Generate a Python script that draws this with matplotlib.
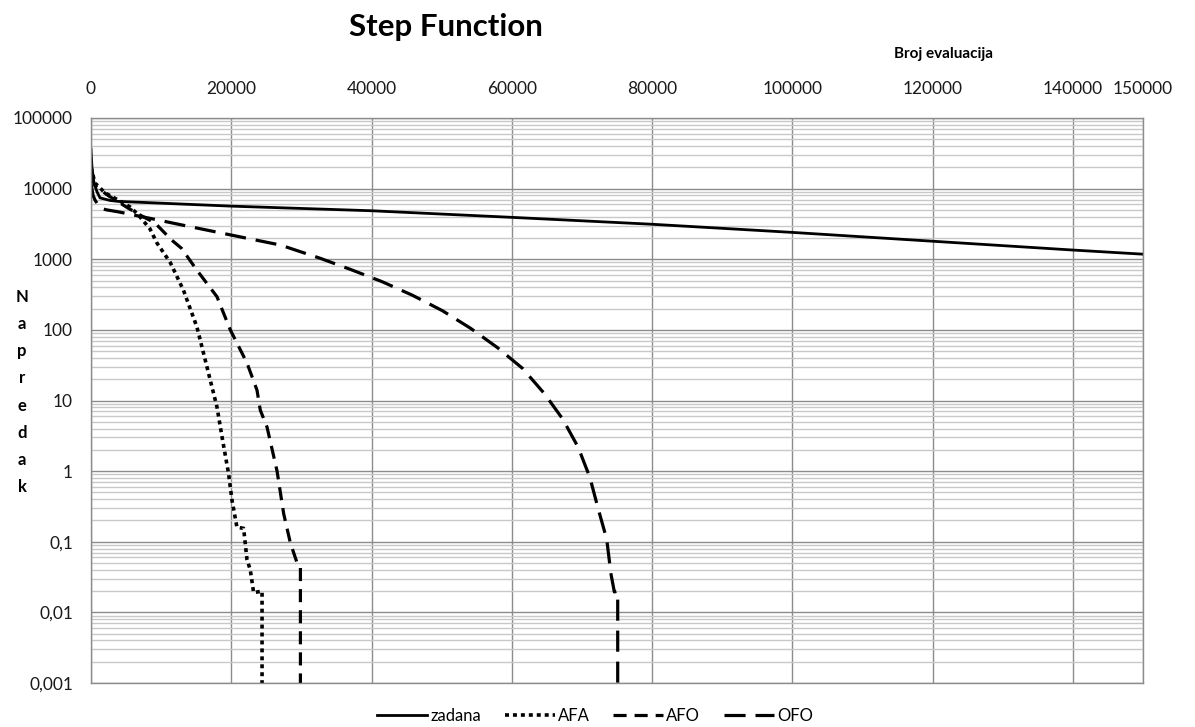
import matplotlib
matplotlib.use("Agg")
import matplotlib.pyplot as plt
from matplotlib.ticker import FixedLocator, LogLocator, NullFormatter

plt.rcParams['font.family'] = ['Lato', 'DejaVu Sans']

# data (x = broj evaluacija, y = napredak)
zadana_x = [0, 140, 430, 860, 1290, 2710, 3860, 20000, 40000, 60000, 80000,
            100000, 120000, 140000, 150000]
zadana_y = [36000, 20000, 12000, 9000, 7400, 6800, 6600, 5650, 4860, 3920, 3130,
            2400, 1800, 1350, 1180]

afa_x = [0, 570, 2000, 3860, 5570, 6700, 8400, 9400, 11300, 13190, 15100, 16530,
         17960, 18670, 19610, 20100, 20810, 21760, 22240, 22710, 23190, 24390, 24390]
afa_y = [20000, 12000, 8700, 6900, 5500, 4300, 2700, 1700, 900, 363, 110, 30,
         8.1, 3.1, 0.93, 0.39, 0.16, 0.155, 0.056, 0.04, 0.019, 0.02, 0.0005]

afo_x = [0, 570, 2430, 5290, 7000, 9140, 11500, 12900, 15100, 17960, 19860, 22240,
         23670, 24140, 25100, 26530, 27470, 28430, 29390, 29860, 29860]
afo_y = [15000, 11000, 8000, 5300, 4230, 3250, 1870, 1430, 700, 295, 100, 34,
         14, 7.3, 4.2, 1.0, 0.25, 0.096, 0.05, 0.045, 0.0005]

ofo_x = [0, 290, 570, 1290, 2240, 3860, 8670, 13430, 20000, 27000, 32700, 37240,
         41530, 45810, 50100, 54140, 57960, 61530, 64620, 67240, 69470, 71140,
         72330, 73530, 74140, 74620, 75100, 75100]
ofo_y = [12000, 8000, 6900, 5300, 5000, 4700, 3750, 2990, 2200, 1590, 1030, 703,
         480, 310, 187, 105, 56, 28.5, 12.6, 5.5, 2.17, 0.81, 0.29, 0.109, 0.035,
         0.0195, 0.02, 0.0005]

xticks = [0, 20000, 40000, 60000, 80000, 100000, 120000, 140000, 150000]
yticks = [0.001, 0.01, 0.1, 1, 10, 100, 1000, 10000, 100000]
ylabels = ['0,001', '0,01', '0,1', '1', '10', '100', '1000', '10000', '100000']

fig = plt.figure(figsize=(11.95, 7.27), dpi=100)
ax = fig.add_axes([91/1195, 1-683/727, 1052/1195, 565/727])

ax.plot(zadana_x, zadana_y, color='black', lw=2.0, label='zadana')
ax.plot(afa_x, afa_y, color='black', lw=2.6, dashes=(1.1, 1.1), label='AFA')
ax.plot(afo_x, afo_y, color='black', lw=2.3, dashes=(4.1, 2.5), label='AFO')
ax.plot(ofo_x, ofo_y, color='black', lw=2.3, dashes=(6.6, 3.1), label='OFO')

ax.set_yscale('log')
ax.set_xlim(0, 150000)
ax.set_ylim(0.001, 100000)

ax.xaxis.tick_top()
ax.set_xticks(xticks)
ax.set_xticklabels([str(t) for t in xticks])
ax.yaxis.set_major_locator(FixedLocator(yticks))
ax.set_yticklabels(ylabels)
ax.yaxis.set_minor_locator(LogLocator(base=10, subs=range(2, 10), numticks=20))
ax.yaxis.set_minor_formatter(NullFormatter())
ax.tick_params(axis='both', which='both', length=0, labelsize=12.5, colors='#1a1a1a')
ax.tick_params(axis='x', pad=15)
ax.tick_params(axis='y', pad=13)

ax.grid(True, which='major', axis='both', color='#8c8c8c', lw=1.0)
ax.grid(True, which='minor', axis='y', color='#c8c8c8', lw=1.0)
ax.set_axisbelow(True)
for s in ax.spines.values():
    s.set_color('#8c8c8c')
    s.set_linewidth(1.0)

fig.text(446/1195, 1-27/727, 'Step Function', fontsize=22.5, fontweight='bold',
         ha='center', va='center')
fig.text(943/1195, 1-54/727, 'Broj evaluacija', fontsize=11, fontweight='bold',
         ha='center', va='center')
fig.text(22/1195, 1-392/727, '\n'.join('Napredak'), fontsize=12, fontweight='bold',
         ha='center', va='center', linespacing=1.86)

ax.legend(loc='center', bbox_to_anchor=(595/1195, 1-716/727),
          bbox_transform=fig.transFigure, ncol=4, frameon=False, fontsize=12,
          handlelength=3.0, handletextpad=0.2, columnspacing=1.4)

fig.savefig('out.png', dpi=100)
